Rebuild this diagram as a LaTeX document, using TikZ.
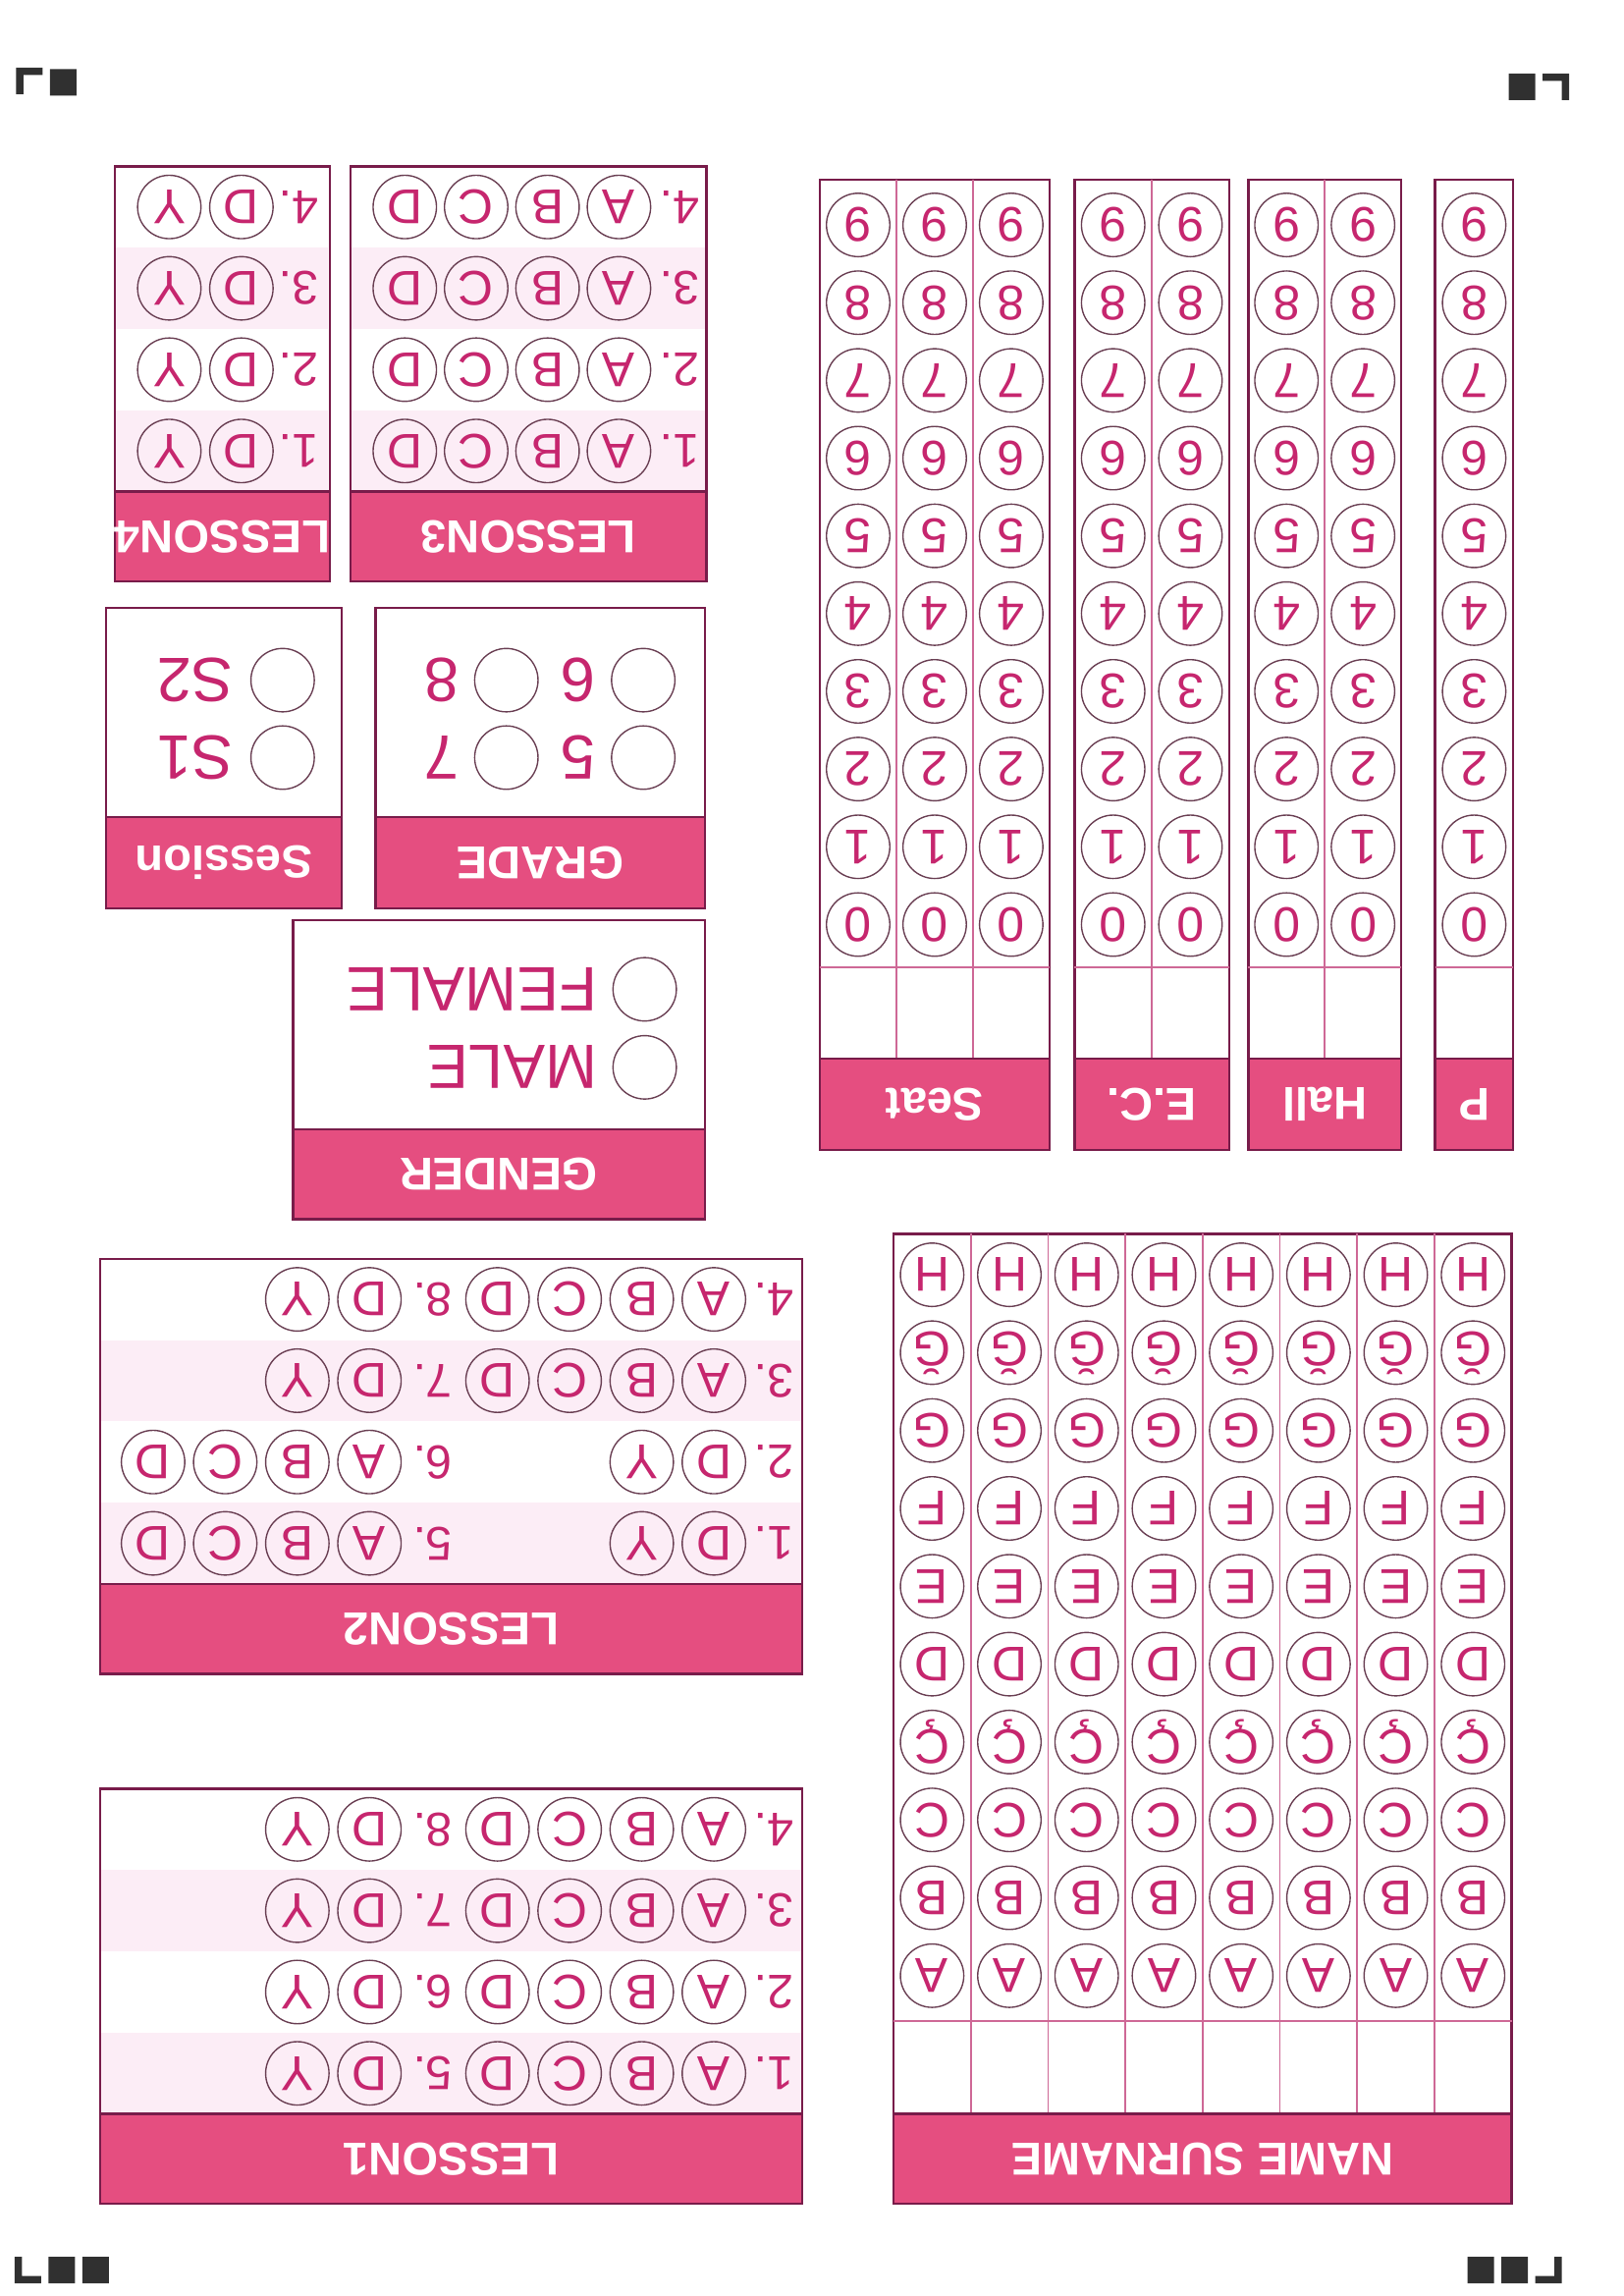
\documentclass[tikz,border=0pt]{standalone}
\usepackage{fontspec}
\setmainfont{Liberation Sans}
\usetikzlibrary{positioning}

\definecolor{headpink}{RGB}{229,78,128}
\definecolor{framecol}{RGB}{120,28,74}
\definecolor{ruleline}{RGB}{206,104,150}
\definecolor{ringcol}{RGB}{105,62,82}
\definecolor{inkcol}{RGB}{198,38,110}
\definecolor{rowpink}{RGB}{252,237,246}
\definecolor{markcol}{RGB}{48,48,48}

\begin{document}
\begin{tikzpicture}[x=0.019039cm,y=-0.019039cm,
    bubble/.style={circle,draw=ringcol,line width=0.5pt,minimum size=0.82cm,inner sep=0pt,
      text=inkcol,font=\fontsize{18}{18}\selectfont,rotate=180},
    qnum/.style={text=inkcol,font=\fontsize{17.5}{17.5}\selectfont,inner sep=0pt,rotate=180},
    optlabel/.style={text=inkcol,font=\fontsize{23}{23}\selectfont,inner sep=0pt,anchor=west,rotate=180},
    headtext/.style={text=white,font=\bfseries\fontsize{17}{17}\selectfont,inner sep=0pt,rotate=180},
    frame/.style={draw=framecol,line width=0.9pt},
    header/.style={fill=headpink,draw=framecol,line width=0.9pt},
    divider/.style={draw=ruleline,line width=0.6pt},
    cornermark/.style={fill=markcol}]

    \useasboundingbox (0,0) rectangle (1103,1559.6);

    % Corner marks
    \fill[cornermark] (11,46) rectangle (29,51) (11,46) rectangle (16,64) (34,47) rectangle (52,65);
    \fill[cornermark] (1025,50) rectangle (1043,68) (1048,50) rectangle (1066,55) (1061,50) rectangle (1066,68);
    \fill[cornermark] (10,1533) rectangle (15,1551) (10,1546) rectangle (28,1551)
        (33,1533) rectangle (51,1551) (56,1533) rectangle (74,1551);
    \fill[cornermark] (997,1533) rectangle (1015,1551) (1020,1533) rectangle (1038,1551)
        (1043,1546) rectangle (1061,1551) (1056,1533) rectangle (1061,1551);

    % Number columns
    \foreach \xa/\xb/\ncol/\lab [count=\grp] in {557/713/3/Seat,730/835/2/E.C.,848/952/2/Hall,975/1028/1/P} {
      \draw[frame] (\xa,122) rectangle (\xb,781);
      \draw[divider] (\xa,657) -- (\xb,657);
      \foreach \col in {1,...,\ncol} {
        \pgfmathsetmacro\cx{\xa+(\xb-\xa)/\ncol*(\col-0.5)}
        \ifnum\col<\ncol\relax \draw[divider] ({\xa+(\xb-\xa)/\ncol*\col},122) -- ++(0,597); \fi
        \foreach \dg in {0,...,9}
          \node[bubble] at (\cx,{628-52.8*\dg}) (g\grp-\col-\dg) {\dg};
      }
      \filldraw[header] (\xa,719) rectangle (\xb,781);
      \node[headtext] at ({(\xa+\xb)/2},750) (h\grp) {\lab};
    }

    % Name surname
    \draw[frame] (607,838) rectangle (1027,1497);
    \foreach \col in {1,...,7} \draw[divider] ({607+52.5*\col},838) -- ++(0,598);
    \draw[divider] (607,1373) -- (1027,1373);
    \foreach \col in {1,...,8}
      \foreach \ltr [count=\ii from 0] in {A,B,C,Ç,D,E,F,G,Ğ,H}
        \node[bubble] at ({607+52.5*(\col-0.5)},{1342-52.9*\ii}) (n\col-\ii) {\ltr};
    \filldraw[header] (607,1436) rectangle (1027,1497);
    \node[headtext] at (817,1466.5) (hname) {NAME SURNAME};

    % Lesson 3 and lesson 4
    \foreach \q in {1,3} {
      \fill[rowpink] (239,{334-55.25*\q}) rectangle (479,{334-55.25*(\q-1)});
      \fill[rowpink] (79,{334-55.25*\q}) rectangle (223,{334-55.25*(\q-1)});
    }
    \draw[frame] (238,113) rectangle (480,395);
    \draw[frame] (78,113) rectangle (224,395);
    \filldraw[header] (238,334) rectangle (480,395);
    \filldraw[header] (78,334) rectangle (224,395);
    \node[headtext] at (359,364.5) (hl3) {LESSON3};
    \node[headtext] at (151,364.5) (hl4) {LESSON4};
    \foreach \q [evaluate=\q as \y using 361.6-55.25*\q] in {1,...,4} {
      \node[qnum] at (462,\y) (l3q\q) {\q.};
      \foreach \opt [count=\ii] in {A,B,C,D}
        \node[bubble] at ({469-48.5*\ii},\y) (l3-\q-\ii) {\opt};
      \node[qnum] at (203,\y) (l4q\q) {\q.};
      \foreach \opt [count=\ii] in {D,Y}
        \node[bubble] at ({213-49*\ii},\y) (l4-\q-\ii) {\opt};
    }

    % Session, grade, gender
    \draw[frame] (72,413) rectangle (232,617);
    \filldraw[header] (72,555) rectangle (232,617);
    \node[headtext] at (152,586) (hses) {Session};
    \node[bubble] at (192,514.6) (s1) {};
    \node[optlabel] at (159,514.6) (s1t) {S1};
    \node[bubble] at (192,462) (s2) {};
    \node[optlabel] at (159,462) (s2t) {S2};

    \draw[frame] (255,413) rectangle (479,617);
    \filldraw[header] (255,555) rectangle (479,617);
    \node[headtext] at (367,586) (hgr) {GRADE};
    \foreach \gx/\gy/\gr in {437/514.6/5,437/462/6,344/514.6/7,344/462/8} {
      \node[bubble] at (\gx,\gy) (gr\gr) {};
      \node[optlabel] at (\gx-32,\gy) (gr\gr t) {\gr};
    }

    \draw[frame] (199,625) rectangle (479,828);
    \filldraw[header] (199,767) rectangle (479,828);
    \node[headtext] at (339,797.5) (hgen) {GENDER};
    \node[bubble] at (438,725) (male) {};
    \node[optlabel] at (406,725) (malet) {MALE};
    \node[bubble] at (438,672) (female) {};
    \node[optlabel] at (406,672) (femalet) {FEMALE};

    % Lesson 2
    \foreach \q in {1,3}
      \fill[rowpink] (69,{1076-55.25*\q}) rectangle (544,{1076-55.25*(\q-1)});
    \draw[frame] (68,855) rectangle (545,1137);
    \filldraw[header] (68,1076) rectangle (545,1137);
    \node[headtext] at (306.5,1106.5) (hl2) {LESSON2};
    \foreach \q/\ga/\gb [evaluate=\q as \y using 1103.6-55.25*\q, evaluate=\q as \m using int(\q+4)]
        in {1/{D,Y}/{A,B,C,D},2/{D,Y}/{A,B,C,D},3/{A,B,C,D}/{D,Y},4/{A,B,C,D}/{D,Y}} {
      \node[qnum] at (526,\y) (l2q\q) {\q.};
      \foreach \opt [count=\ii] in \ga
        \node[bubble] at ({534-49*\ii},\y) (l2a-\q-\ii) {\opt};
      \node[qnum] at (294,\y) (l2q\m) {\m.};
      \foreach \opt [count=\ii] in \gb
        \node[bubble] at ({300-49*\ii},\y) (l2b-\q-\ii) {\opt};
    }

    % Lesson 1
    \foreach \q in {1,3}
      \fill[rowpink] (69,{1436-55.25*\q}) rectangle (544,{1436-55.25*(\q-1)});
    \draw[frame] (68,1215) rectangle (545,1497);
    \filldraw[header] (68,1436) rectangle (545,1497);
    \node[headtext] at (306.5,1466.5) (hl1) {LESSON1};
    \foreach \q [evaluate=\q as \y using 1463.6-55.25*\q, evaluate=\q as \m using int(\q+4)] in {1,...,4} {
      \node[qnum] at (526,\y) (l1q\q) {\q.};
      \foreach \opt [count=\ii] in {A,B,C,D}
        \node[bubble] at ({534-49*\ii},\y) (l1a-\q-\ii) {\opt};
      \node[qnum] at (294,\y) (l1q\m) {\m.};
      \foreach \opt [count=\ii] in {D,Y}
        \node[bubble] at ({300-49*\ii},\y) (l1b-\q-\ii) {\opt};
    }

\end{tikzpicture}
\end{document}
